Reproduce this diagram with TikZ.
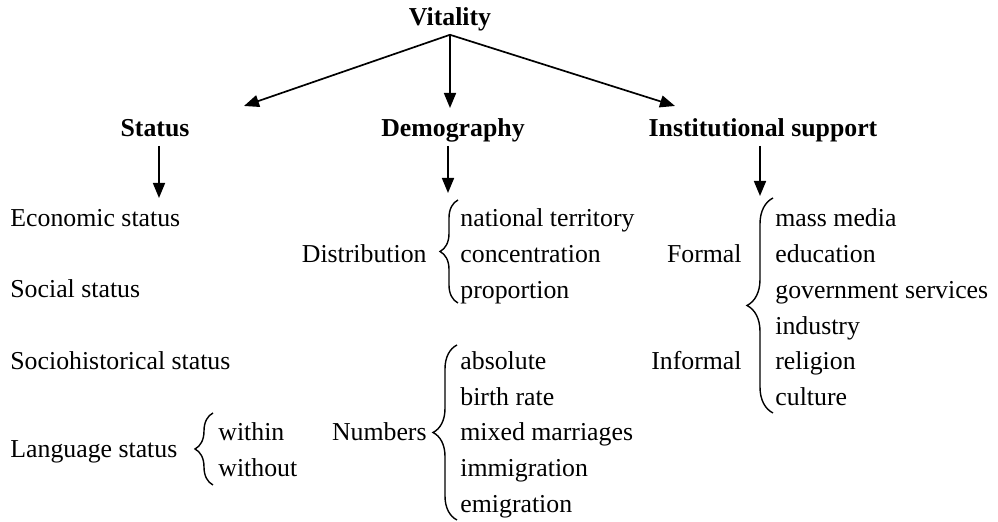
\documentclass[tikz,border=0pt]{standalone}
\usepackage{fontspec}
\setmainfont{Liberation Serif}
\usetikzlibrary{arrows.meta, decorations.pathreplacing, positioning}
\tikzset{
  % titoli dei livelli
  head/.style={font=\fontsize{12.9}{15}\selectfont\bfseries, inner sep=2pt,
    text depth=0.22em, anchor=base},
  % voce di un elenco
  item/.style={font=\fontsize{12.9}{15}\selectfont, inner sep=0pt, anchor=base west},
  % nome di un gruppo, a sinistra della graffa
  group/.style={font=\fontsize{12.9}{15}\selectfont, inner sep=0pt, anchor=base east},
  % frecce
  arr/.style={-{Triangle[length=7.5pt, width=6pt]}, line width=0.85pt},
  % graffa aperta verso destra
  curly/.style={decorate, decoration={brace, amplitude=#1}, line width=0.7pt},
  curly/.default=9pt,
}

\begin{document}
\begin{tikzpicture}[x=0.5pt, y=0.5pt]
  \useasboundingbox (0,0) rectangle (998,522);
  % titoli
  \node[head] (vit) at (450,496) {Vitality};
  \node[head] (stat) at (155,385) {Status};
  \node[head] (demo) at (453,385) {Demography};
  \node[head] (inst) at (763,385) {Institutional support};
  \coordinate (statin) at (244,416);
  \coordinate (demoin) at (450,414);
  \coordinate (instin) at (675,416);
  \draw[arr] (vit.south) -- (statin);
  \draw[arr] (vit.south) -- (demoin);
  \draw[arr] (vit.south) -- (instin);
  \coordinate (statout) at (159,324);
  \coordinate (demoout) at (448,329);
  \coordinate (instout) at (760,326);
  \draw[arr] (stat.south -| statout) -- (statout);
  \draw[arr] (demo.south -| demoout) -- (demoout);
  \draw[arr] (inst.south -| instout) -- (instout);
  % status
  \node[item] (eco) at (10,295) {Economic status};
  \node[item] (soc) at (10,224) {Social status};
  \node[item] (hist) at (10,152.5) {Sociohistorical status};
  \node[item] (lang) at (10,64) {Language status};
  \node[item] (within) at (218,81) {within};
  \node[item] (without) at (218,45) {without};
  \coordinate (lb1) at (213,37); \coordinate (lb2) at (213,109);
  \draw[curly] (lb1) -- (lb2);
  % demografia
  \node[group] (distr) at (427,259.5) {Distribution};
  \foreach \t [count=\i from 0] in {national territory, concentration, proportion} {
    \node[item] (dist\i) at (460,295-35.7*\i) {\t};
  }
  \coordinate (db1) at (458,219); \coordinate (db2) at (458,322);
  \draw[curly] (db1) -- (db2);
  \node[group] (numb) at (427,81) {Numbers};
  \foreach \t [count=\i from 0] in {absolute, birth rate, mixed marriages, immigration, emigration} {
    \node[item] (num\i) at (460,152.5-35.7*\i) {\t};
  }
  \coordinate (nb1) at (457,2); \coordinate (nb2) at (457,177);
  \draw[curly=12pt] (nb1) -- (nb2);
  % supporto istituzionale
  \node[group] (formal) at (742,259.5) {Formal};
  \node[group] (informal) at (742,152.5) {Informal};
  \foreach \t [count=\i from 0] in {mass media, education, government services, industry, religion, culture} {
    \node[item] (sup\i) at (775,295-35.7*\i) {\t};
  }
  \coordinate (ib1) at (773,109); \coordinate (ib2) at (773,324);
  \draw[curly=13pt] (ib1) -- (ib2);
\end{tikzpicture}
\end{document}
